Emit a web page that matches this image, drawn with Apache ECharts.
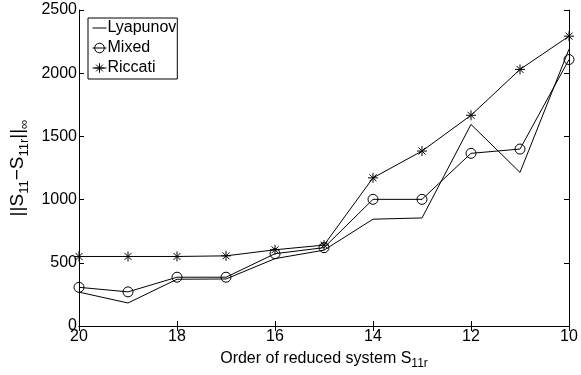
<html>
<head>
<meta charset="utf-8" />
<title>Reduced system error</title>
<script type="text/javascript" src="https://cdn.jsdelivr.net/npm/echarts@6/dist/echarts.min.js"></script>
</head>
<body style="margin:0">
<div id="chart" style="width:581px;height:375px"></div>
<script type="text/javascript">
// order of the reduced system (x axis, drawn reversed)
var orders = [20, 19, 18, 17, 16, 15, 14, 13, 12, 11, 10];
var lyapunov = [268, 182, 370, 372, 533, 600, 845, 855, 1595, 1215, 2190];
var mixed = [306, 270, 386, 386, 572, 620, 1002, 1002, 1366, 1400, 2108];
var riccati = [550, 550, 550, 555, 603, 640, 1172, 1384, 1667, 2030, 2293];

var starPath = 'path://M0,-5L0,5M-5,0L5,0M-3.5,-3.5L3.5,3.5M-3.5,3.5L3.5,-3.5';
var font = 'Liberation Sans';

function pairs(vals) {
  return orders.map(function (o, i) { return [o, vals[i]]; });
}
function plain(v) { return String(v); }

var chart = echarts.init(document.getElementById('chart'));

var xBase = {
  type: 'value', min: 10, max: 20, interval: 2, inverse: true,
  axisLine: { lineStyle: { color: '#000', width: 1 } },
  axisTick: { inside: true, length: 5, lineStyle: { color: '#000' } },
  splitLine: { show: false }
};
var yBase = {
  type: 'value', min: 0, max: 2500, interval: 500,
  axisLine: { show: true, lineStyle: { color: '#000', width: 1 } },
  axisTick: { show: true, inside: true, length: 5, lineStyle: { color: '#000' } },
  splitLine: { show: false }
};
var subX = { fontFamily: font, fontSize: 12, color: '#000', padding: [10, 0, 0, 0] };
var subY = { fontFamily: font, fontSize: 13, color: '#000', padding: [12, 0, 0, 0] };

var option = {
  animation: false,
  backgroundColor: '#fff',
  grid: { left: 79, right: 12, top: 10, bottom: 43 },
  legend: {
    left: 88, top: 18,
    orient: 'vertical',
    data: [
      { name: 'Lyapunov', itemStyle: { color: 'transparent', borderColor: 'transparent' } },
      { name: 'Mixed' },
      { name: 'Riccati' }
    ],
    backgroundColor: '#fff',
    borderColor: '#000', borderWidth: 1, borderRadius: 0,
    padding: [2, 1, 3, 4],
    itemWidth: 14, itemHeight: 12, itemGap: 4,
    itemStyle: { borderWidth: 1 },
    lineStyle: { width: 1 },
    textStyle: { fontFamily: font, fontSize: 16, color: '#000', padding: [0, 0, 0, -4] }
  },
  xAxis: [
    Object.assign({}, xBase, {
      position: 'bottom',
      name: 'Order of reduced system S{sub|11r}',
      nameLocation: 'middle', nameGap: 22,
      nameTextStyle: { fontFamily: font, fontSize: 16, color: '#000', rich: { sub: subX } },
      axisLabel: { fontFamily: font, fontSize: 16, color: '#000', margin: 3, formatter: plain }
    }),
    Object.assign({}, xBase, { position: 'top', axisLabel: { show: false } })
  ],
  yAxis: [
    Object.assign({}, yBase, {
      position: 'left',
      name: '||S{sub|11}\u2212S{sub|11r}||{sub|\u221E}',
      nameLocation: 'middle', nameGap: 44,
      nameTextStyle: { fontFamily: font, fontSize: 19, color: '#000', rich: { sub: subY } },
      axisLabel: { fontFamily: font, fontSize: 16, color: '#000', margin: 2, formatter: plain }
    }),
    Object.assign({}, yBase, { position: 'right', axisLabel: { show: false } })
  ],
  series: [
    {
      name: 'Lyapunov', type: 'line', data: pairs(lyapunov),
      symbol: 'none',
      lineStyle: { color: '#000', width: 1 },
      itemStyle: { color: '#000' }
    },
    {
      name: 'Mixed', type: 'line', data: pairs(mixed),
      symbol: 'circle', symbolSize: 10, showAllSymbol: true,
      lineStyle: { color: '#000', width: 1 },
      itemStyle: { color: 'none', borderColor: '#000', borderWidth: 1 }
    },
    {
      name: 'Riccati', type: 'line', data: pairs(riccati),
      symbol: starPath, symbolSize: 10, showAllSymbol: true,
      lineStyle: { color: '#000', width: 1 },
      itemStyle: { color: 'none', borderColor: '#000', borderWidth: 1 }
    }
  ]
};

chart.setOption(option);
</script>
</body>
</html>
